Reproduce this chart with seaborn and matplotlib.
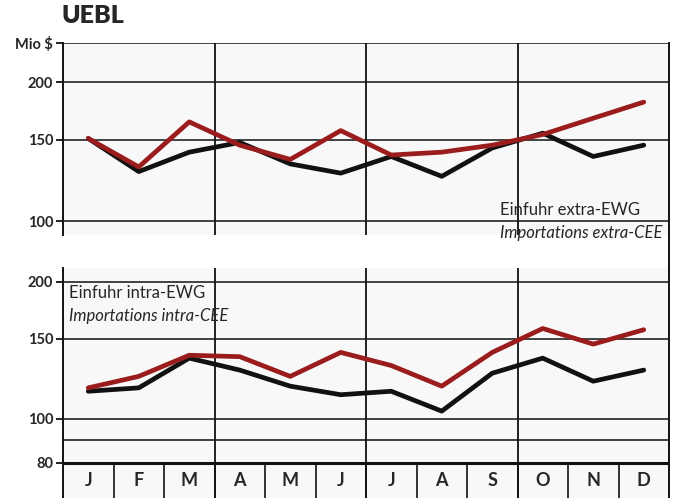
import pandas as pd
import matplotlib.pyplot as plt
import seaborn as sns
from matplotlib.lines import Line2D

# month labels and monthly import values (Mio $), log scale chart
months = ['J', 'F', 'M', 'A', 'M', 'J', 'J', 'A', 'S', 'O', 'N', 'D']
extra_red = [151, 131, 164, 146, 136, 157, 139, 141, 146, 154, 167, 181]
extra_black = [151, 128, 141, 148, 133, 127, 138, 125, 144, 155, 138, 146]
intra_red = [117, 124, 138, 137, 124, 140, 131, 118, 140, 158, 146, 157]
intra_black = [115, 117, 136, 128, 118, 113, 115, 104, 126, 136, 121, 128]

sns.set_style("white")
plt.rcParams['font.family'] = ['Lato', 'DejaVu Sans']

RED = '#9a1c1c'
BLACK = '#111111'
BG = '#f8f8f8'

fig = plt.figure(figsize=(6.77, 4.98), dpi=100)
W, H = 677, 498
left, right = 63 / W, 669 / W
ax_top = fig.add_axes([left, 1 - 235 / H, right - left, 192 / H])
ax_bot = fig.add_axes([left, 0, right - left, 1 - 268 / H])

x = list(range(12))
top = pd.DataFrame({'m': x, 'red': extra_red, 'black': extra_black})
bot = pd.DataFrame({'m': x, 'red': intra_red, 'black': intra_black})

for ax, df in [(ax_top, top), (ax_bot, bot)]:
    ax.set_facecolor(BG)
    ax.set_yscale('log')
    ax.set_xlim(-0.5, 11.5)
    # quarter separators
    for q in [2.5, 5.5, 8.5]:
        ax.axvline(q, color=BLACK, lw=1.3, zorder=1)
    sns.lineplot(data=df, x='m', y='black', ax=ax, color=BLACK, lw=3.4, zorder=3)
    sns.lineplot(data=df, x='m', y='red', ax=ax, color=RED, lw=3.4, zorder=4)
    ax.set_xlabel('')
    ax.set_ylabel('')
    ax.set_xticks([])
    ax.minorticks_off()
    for s in ['top', 'bottom']:
        ax.spines[s].set_visible(False)
    for s in ['left', 'right']:
        ax.spines[s].set_color(BLACK)
        ax.spines[s].set_linewidth(1.4)
    ax.tick_params(axis='y', which='major', left=True, length=5, width=1.3,
                   color=BLACK, pad=2, labelsize=10.5)

# top panel
ax_top.set_ylim(93.3, 243)
for v in [100, 150, 200, 243]:
    ax_top.axhline(v, color=BLACK, lw=1.1, zorder=1)
ax_top.set_yticks([100, 150, 200, 243])
ax_top.set_yticklabels(['100', '150', '200', 'Mio \\$'], fontweight='bold')
ax_top.text(8.15, 105.6, 'Einfuhr extra-EWG', fontsize=12, va='center', ha='left', zorder=5)
ax_top.text(8.15, 94.4, 'Importations extra-CEE', fontsize=12, style='italic',
            va='center', ha='left', zorder=5)

# bottom panel
ax_bot.set_ylim(67, 214.6)
for v in [90, 100, 150, 200]:
    ax_bot.axhline(v, color=BLACK, lw=1.1, zorder=1)
ax_bot.axhline(80, color=BLACK, lw=2.2, zorder=2)
ax_bot.set_yticks([80, 100, 150, 200])
ax_bot.set_yticklabels(['80', '100', '150', '200'], fontweight='bold')
ax_bot.vlines([i + 0.5 for i in range(11)], 67, 80, color=BLACK, lw=1.2)
for i, m in enumerate(months):
    ax_bot.text(i, 73.3, m, ha='center', va='center', fontsize=13, fontweight='bold')
ax_bot.text(-0.38, 189, 'Einfuhr intra-EWG', fontsize=12, va='center', ha='left', zorder=5)
ax_bot.text(-0.38, 168, 'Importations intra-CEE', fontsize=12, style='italic',
            va='center', ha='left', zorder=5)

# right border continues between the panels
fig.add_artist(Line2D([right, right], [1 - 235 / H, 1 - 268 / H], color=BLACK, lw=1.4))

fig.text(62 / W, 1 - 16 / H, 'UEBL', fontsize=18, fontweight='heavy', va='center', ha='left')

plt.savefig('out.png', dpi=100)
